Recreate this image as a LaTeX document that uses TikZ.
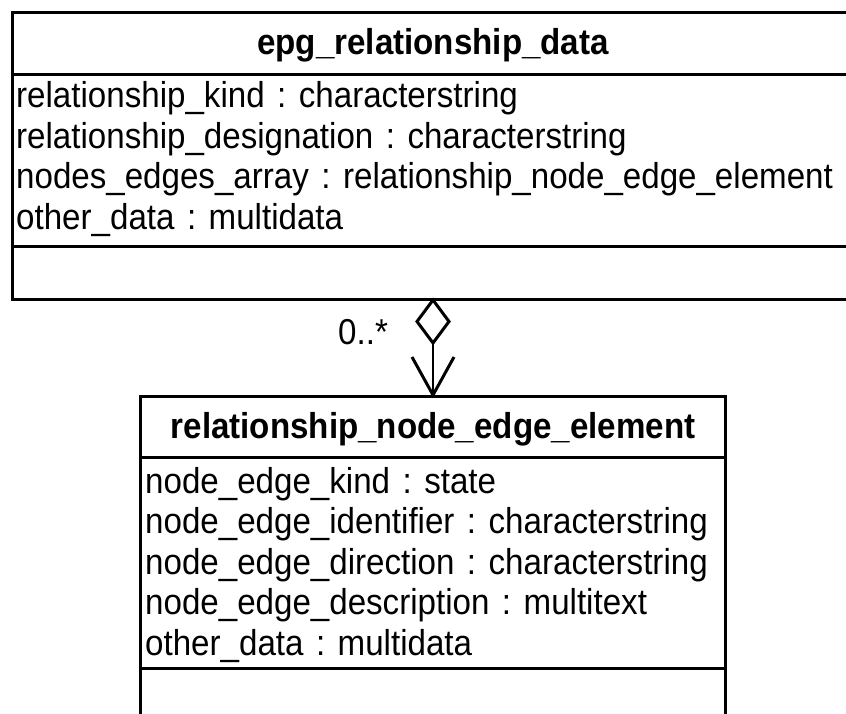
\documentclass[tikz,border=0pt]{standalone}
\usepackage{fontspec}
\setmainfont{Liberation Sans}[FakeStretch=0.92]
\begin{document}
\begin{tikzpicture}[x=1pt,y=-1pt,
  frame/.style={line width=3pt},
  attr/.style={anchor=base west,inner sep=0pt,font=\fontsize{36}{40}\selectfont},
  title/.style={anchor=base,inner sep=0pt,font=\fontsize{36}{40}\selectfont\bfseries},
  link/.style={line width=1.5pt},
  tip/.style={line width=3pt,line join=miter}]
\newcommand{\sep}{\hbox to 0.95em{\hss:\hss}}
\useasboundingbox (0,0) rectangle (846,714);

% upper class box (its right side runs past the page edge)
\draw[frame] (870,13) -- (12,13) -- (12,299) -- (870,299);
\draw[frame] (12,75) -- (870,75);
\draw[frame] (12,247) -- (870,247);
\node[title] (t1) at (433,55) {epg\_relationship\_data};
\node[attr] (a1) at (16,108) {relationship\_kind\sep characterstring};
\node[attr] (a2) at (16,148.5) {relationship\_designation\sep characterstring};
\node[attr] (a3) at (16,189) {nodes\_edges\_array\sep relationship\_node\_edge\_element};
\node[attr] (a4) at (16,229.5) {other\_data\sep multidata};

% lower class box (open at the bottom edge)
\draw[frame] (140,730) -- (140,396) -- (725,396) -- (725,730);
\draw[frame] (140,457) -- (725,457);
\draw[frame] (140,668) -- (725,668);
\node[title] (t2) at (433,438) {relationship\_node\_edge\_element};
\node[attr] (b1) at (145,493) {node\_edge\_kind\sep state};
\node[attr] (b2) at (145,533.5) {node\_edge\_identifier\sep characterstring};
\node[attr] (b3) at (145,574) {node\_edge\_direction\sep characterstring};
\node[attr] (b4) at (145,614.5) {node\_edge\_description\sep multitext};
\node[attr] (b5) at (145,655) {other\_data\sep multidata};

% aggregation: hollow diamond at the whole, open arrow at the part
\coordinate (dtop) at (433,300);
\coordinate (dbot) at (433,343);
\coordinate (atip) at (433,395);
\draw[tip] (dtop) -- (417,321.5) -- (dbot) -- (449,321.5) -- cycle;
\draw[link] (dbot) -- (atip);
\draw[tip] (412,357) -- (atip) -- (454,357);
\node[attr] (m) at (338,344) {0..*};
\end{tikzpicture}
\end{document}
